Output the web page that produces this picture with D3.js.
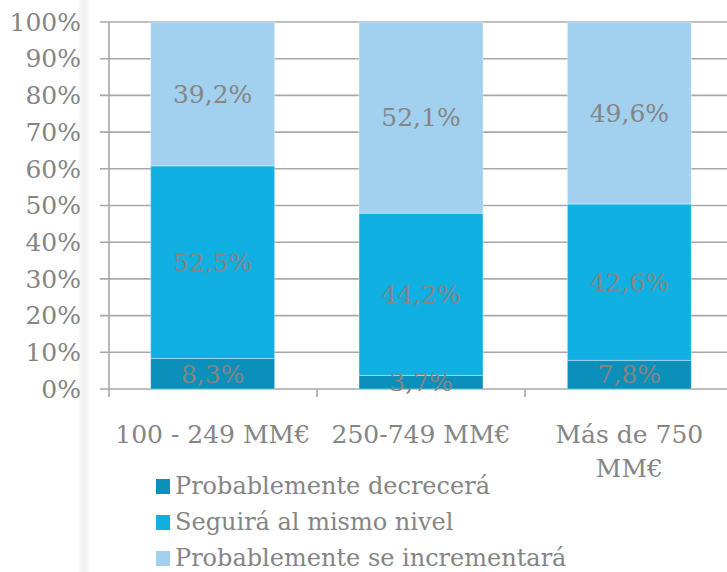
<!DOCTYPE html>
<html><head><meta charset="utf-8">
<script src="https://cdn.jsdelivr.net/npm/d3@7"></script>
<style>html,body{margin:0;padding:0;background:#fff;}svg{display:block;}</style>
</head><body>
<svg id="c" width="727" height="572"></svg>
<script>
const categories = ["100 - 249 MM€", "250-749 MM€", "Más de 750 MM€"];
const categoryLines = [["100 - 249 MM€"], ["250-749 MM€"], ["Más de 750", "MM€"]];
const seriesNames = ["Probablemente decrecerá", "Seguirá al mismo nivel", "Probablemente se incrementará"];
const decrecera = [8.3, 3.7, 7.8];
const mismoNivel = [52.5, 44.2, 42.6];
const incrementara = [39.2, 52.1, 49.6];
const yTicks = [0,10,20,30,40,50,60,70,80,90,100];
const colors = ["#0b8fbb", "#10b0e3", "#a1d1ef"];

(function(){
const font = "'DejaVu Serif', serif";
const textColor = "#858585";
const svg = d3.select("#c");

// faint shadow stripe
const defs = svg.append("defs");
const g1 = defs.append("linearGradient").attr("id","sh").attr("x1","0").attr("x2","1");
g1.append("stop").attr("offset","0").attr("stop-color","#fff");
g1.append("stop").attr("offset","0.5").attr("stop-color","#efefef");
g1.append("stop").attr("offset","1").attr("stop-color","#fff");
svg.append("rect").attr("x",77).attr("y",0).attr("width",14).attr("height",572).attr("fill","url(#sh)");

const pLeft = 109, pRight = 733, pTop = 22, pBottom = 389;
const x = d3.scaleBand().domain(categories).range([pLeft, pRight]).paddingInner(0.405).paddingOuter(0.2);
const y = d3.scaleLinear().domain([0, 100]).range([pBottom, pTop]);

const data = categories.map((c, i) => ({cat: c, vals: [decrecera[i], mismoNivel[i], incrementara[i]]}));
const stack = d3.stack().keys([0,1,2]).value((d,k) => d.vals[k]);
const stacked = stack(data);

// gridlines
svg.append("g").selectAll("line").data(yTicks).join("line")
  .attr("x1", 100).attr("x2", 727)
  .attr("y1", d => y(d)).attr("y2", d => y(d))
  .attr("stroke", "#a8a8a8").attr("stroke-width", 1.6);

// y axis line
svg.append("line").attr("x1", pLeft).attr("x2", pLeft).attr("y1", pTop).attr("y2", pBottom + 8)
  .attr("stroke", "#a8a8a8").attr("stroke-width", 1.6);

// category ticks (boundaries)
const bw = (pRight - pLeft) / categories.length;
svg.append("g").selectAll("line").data(categories).join("line")
  .attr("x1", (d,i) => pLeft + bw*(i+1)).attr("x2", (d,i) => pLeft + bw*(i+1))
  .attr("y1", pBottom).attr("y2", pBottom + 8)
  .attr("stroke", "#a8a8a8").attr("stroke-width", 1.6);

// bars
const layers = svg.append("g").selectAll("g").data(stacked).join("g")
  .attr("fill", (d,i) => colors[i]);
layers.selectAll("rect").data(d => d).join("rect")
  .attr("x", d => x(d.data.cat))
  .attr("width", x.bandwidth())
  .attr("y", d => y(d[1]))
  .attr("height", d => y(d[0]) - y(d[1]))
  .attr("stroke", "rgba(255,255,255,0.35)").attr("stroke-width", 1);

// data labels
const fmt = v => v.toFixed(1).replace(".", ",") + "%";
stacked.forEach((layer) => {
  svg.append("g").selectAll("text").data(layer).join("text")
    .attr("x", d => x(d.data.cat) + x.bandwidth()/2)
    .attr("y", d => y((d[0]+d[1])/2))
    .attr("dy", "0.35em")
    .attr("text-anchor", "middle")
    .attr("font-family", font).attr("font-size", 25)
    .attr("fill", textColor)
    .text(d => fmt(d[1]-d[0]));
});

// y tick labels
svg.append("g").selectAll("text").data(yTicks).join("text")
  .attr("x", 81).attr("y", d => y(d)).attr("dy", "0.35em")
  .attr("text-anchor", "end")
  .attr("font-family", font).attr("font-size", 25)
  .attr("fill", textColor)
  .text(d => d + "%");

// category labels
categories.forEach((c, i) => {
  const t = svg.append("text")
    .attr("x", x(c) + x.bandwidth()/2).attr("y", 443)
    .attr("text-anchor", "middle")
    .attr("font-family", font).attr("font-size", 25)
    .attr("fill", textColor);
  categoryLines[i].forEach((ln, j) => {
    t.append("tspan").attr("x", x(c) + x.bandwidth()/2).attr("dy", j === 0 ? 0 : 34).text(ln);
  });
});

// legend
const lg = svg.append("g");
seriesNames.forEach((n, i) => {
  const yy = 486 + i*36;
  lg.append("rect").attr("x", 156).attr("y", yy - 7).attr("width", 14).attr("height", 15).attr("fill", colors[i]);
  lg.append("text").attr("x", 175).attr("y", yy).attr("dy", "0.35em")
    .attr("font-family", font).attr("font-size", 24).attr("fill", textColor).text(n);
});
})();
</script>
</body></html>
